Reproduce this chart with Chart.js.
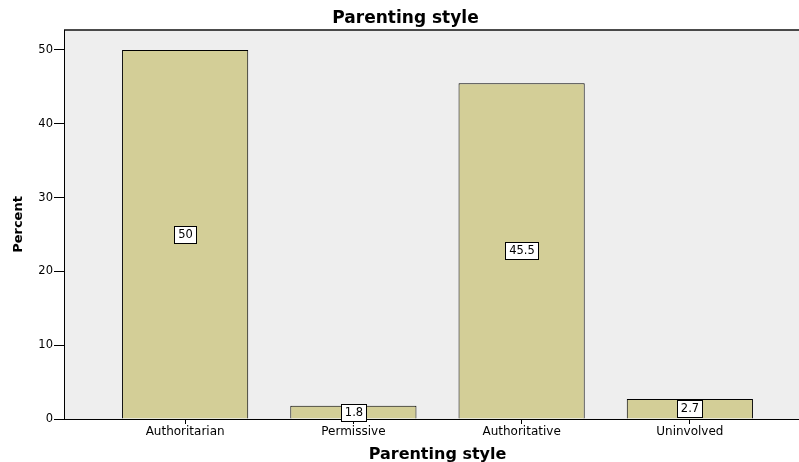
<!DOCTYPE html>
<html>
<head>
<meta charset="utf-8">
<script src="https://cdn.jsdelivr.net/npm/chart.js@4/dist/chart.umd.min.js"></script>
<style>
  html, body { margin: 0; padding: 0; background: #ffffff; overflow: hidden; width: 799px; height: 462px; }
  canvas { display: block; }
</style>
</head>
<body>
<canvas id="c" width="811" height="462"></canvas>
<script>
const categories = ["Authoritarian", "Permissive", "Authoritative", "Uninvolved"];
const percentValues = [50, 1.8, 45.5, 2.7];
const yTickValues = [0, 10, 20, 30, 40, 50];
const chartTitle = "Parenting style";
const xAxisTitle = "Parenting style";
const yAxisTitle = "Percent";

const plotBackground = {
  id: 'plotBackground',
  beforeDraw(chart) {
    const {ctx, chartArea: a} = chart;
    ctx.save();
    ctx.fillStyle = '#eeeeee';
    ctx.fillRect(a.left, a.top, a.right - a.left, a.bottom - a.top);
    ctx.strokeStyle = '#111111';
    ctx.lineWidth = 1.5;
    ctx.beginPath();
    ctx.moveTo(a.left, a.top);
    ctx.lineTo(a.right, a.top);
    ctx.stroke();
    ctx.restore();
  }
};

const valueBoxes = {
  id: 'valueBoxes',
  afterDatasetsDraw(chart) {
    const {ctx} = chart;
    const meta = chart.getDatasetMeta(0);
    ctx.save();
    ctx.font = '11.5px "DejaVu Sans"';
    ctx.textAlign = 'center';
    ctx.textBaseline = 'middle';
    meta.data.forEach((bar, i) => {
      const txt = String(percentValues[i]);
      const w = Math.round(ctx.measureText(txt).width + 7);
      const h = 17;
      const cx = bar.x;
      const cy = (bar.y + bar.base) / 2;
      const x0 = Math.round(cx - w / 2) + 0.5;
      const y0 = Math.round(cy - h / 2) + 0.5;
      ctx.fillStyle = '#ffffff';
      ctx.fillRect(x0, y0, w, h);
      ctx.strokeStyle = '#000000';
      ctx.lineWidth = 1;
      ctx.strokeRect(x0, y0, w, h);
      ctx.fillStyle = '#000000';
      ctx.fillText(txt, x0 + w / 2, y0 + h / 2 + 0.5);
    });
    ctx.restore();
  }
};

new Chart(document.getElementById('c'), {
  type: 'bar',
  data: {
    datasets: [{
      data: percentValues.map((v, i) => ({x: i, y: v})),
      backgroundColor: '#d3ce97',
      borderColor: '#000000',
      borderWidth: 1,
      barPercentage: 0.75,
      categoryPercentage: 1.0
    }]
  },
  options: {
    responsive: false,
    animation: false,
    layout: { padding: 0 },
    plugins: {
      legend: { display: false },
      tooltip: { enabled: false },
      title: {
        display: true,
        text: chartTitle,
        color: '#000000',
        font: { family: 'DejaVu Sans', size: 17, weight: 'bold', lineHeight: 1.2 },
        padding: { top: 8, bottom: 1.6 }
      }
    },
    scales: {
      x: {
        type: 'linear',
        min: -0.72,
        max: 3.72,
        offset: false,
        grid: { display: true, drawOnChartArea: false, drawTicks: true, tickLength: 5, color: '#000000', offset: false },
        border: { display: true, color: '#000000', width: 1 },
        afterBuildTicks(scale) { scale.ticks = categories.map((c, i) => ({value: i})); },
        afterFit(scale) { scale.height = 43; },
        ticks: {
          autoSkip: false,
          maxRotation: 0,
          padding: 1,
          color: '#000000',
          font: { family: 'DejaVu Sans', size: 12 },
          callback: (v) => categories[v]
        },
        title: {
          display: true,
          text: xAxisTitle,
          color: '#000000',
          font: { family: 'DejaVu Sans', size: 16, weight: 'bold', lineHeight: 0.875 },
          padding: { top: 0, bottom: 0 }
        }
      },
      y: {
        type: 'linear',
        min: 0,
        max: 52.7,
        grid: { display: true, drawOnChartArea: false, drawTicks: true, tickLength: 10, color: '#000000' },
        border: { display: true, color: '#000000', width: 1 },
        afterBuildTicks(scale) { scale.ticks = yTickValues.map(v => ({value: v})); },
        afterFit(scale) { scale.width = 64; },
        ticks: {
          padding: 1,
          color: '#000000',
          font: { family: 'DejaVu Sans', size: 11.5 }
        },
        title: {
          display: true,
          text: yAxisTitle,
          color: '#000000',
          font: { family: 'DejaVu Sans', size: 13, weight: 'bold', lineHeight: 1.2 },
          padding: { top: 11, bottom: 0 }
        }
      }
    }
  },
  plugins: [plotBackground, valueBoxes]
});
</script>
</body>
</html>
